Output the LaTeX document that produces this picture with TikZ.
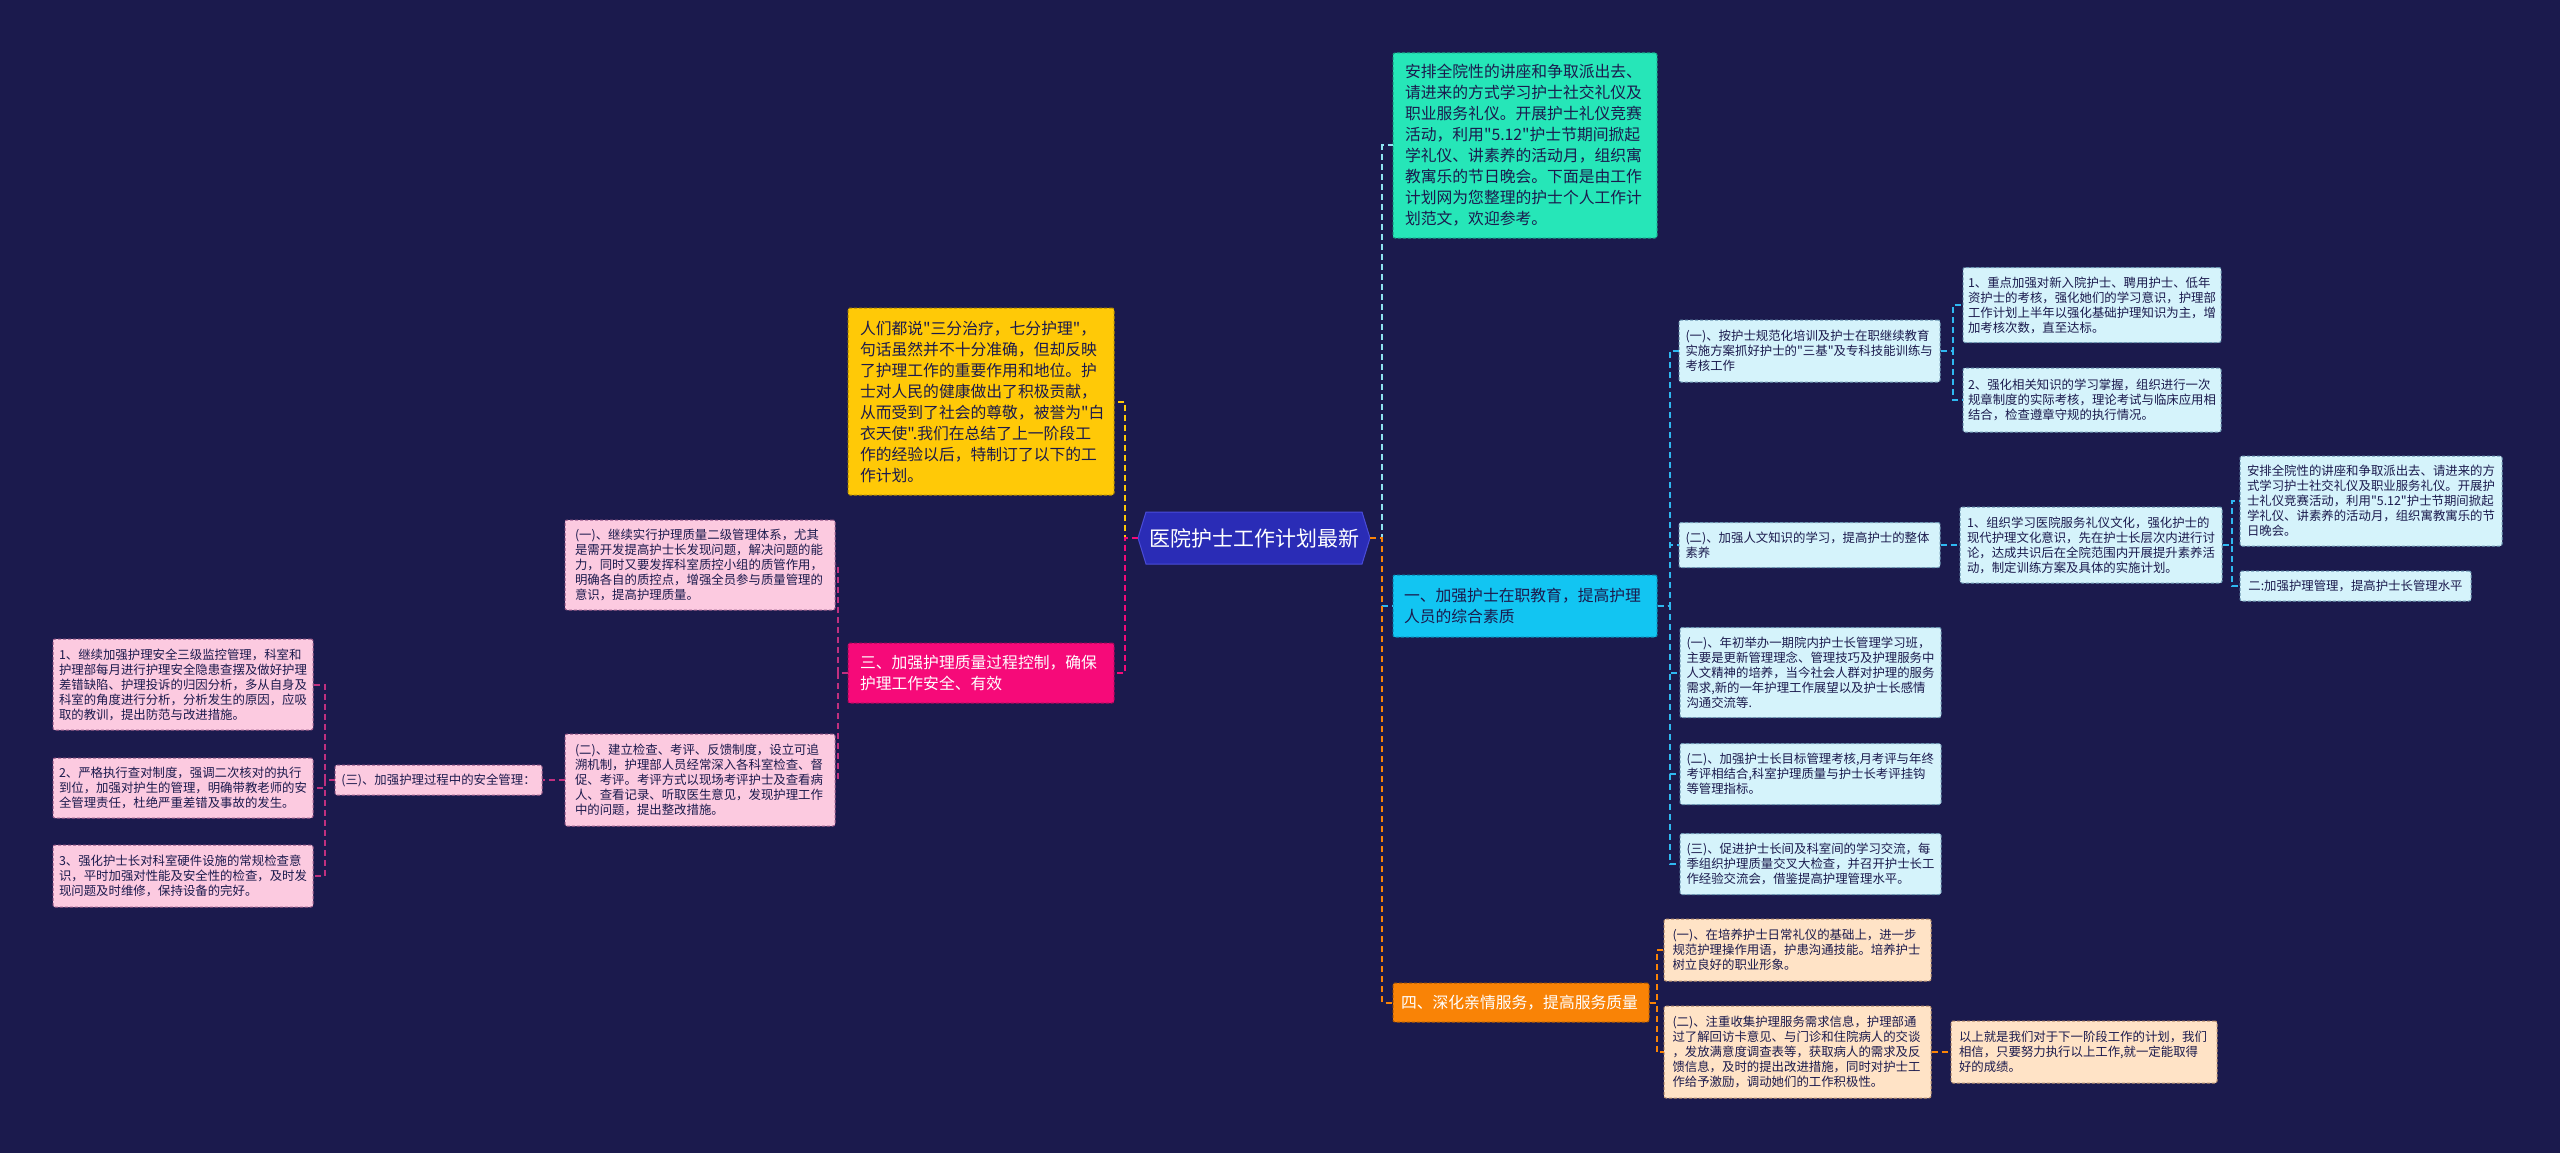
\documentclass[tikz,border=0pt]{standalone}
\usepackage{fontspec}
\setmainfont{Noto Sans CJK SC}[Ligatures=TeXOff]
\definecolor{bg}{HTML}{1B1A4D}
\definecolor{navy}{HTML}{1B1A4D}
\definecolor{tealc}{HTML}{26E6B8}
\definecolor{tealb}{HTML}{169E82}
\definecolor{tealline}{HTML}{8FE3F0}
\definecolor{cyanc}{HTML}{12C5F2}
\definecolor{cyanb}{HTML}{0A86B0}
\definecolor{cyanline}{HTML}{2FB8F0}
\definecolor{lcyan}{HTML}{D5F3FB}
\definecolor{lcyanb}{HTML}{6C98B4}
\definecolor{orangec}{HTML}{F98306}
\definecolor{orangeb}{HTML}{B05A00}
\definecolor{peach}{HTML}{FFE3C6}
\definecolor{peachb}{HTML}{B88E6C}
\definecolor{yellowc}{HTML}{FFC907}
\definecolor{yellowb}{HTML}{B08A00}
\definecolor{magc}{HTML}{F60A79}
\definecolor{magb}{HTML}{A8085A}
\definecolor{pinkc}{HTML}{FCCAE0}
\definecolor{pinkb}{HTML}{9A5A8A}
\definecolor{pinkline}{HTML}{C0307F}
\definecolor{centerc}{HTML}{2A2CB6}
\definecolor{centerb}{HTML}{4A4CD8}
\tikzset{
  base/.style={rectangle, rounded corners=2pt, line width=1pt, dash pattern=on 3pt off 2pt, align=left, inner xsep=0pt, inner ysep=0pt, anchor=center},
  smallbox/.style={base, font=\fontsize{12.4pt}{15pt}\selectfont, text=navy},
  bigbox/.style={base, font=\fontsize{15.8pt}{21pt}\selectfont},
  pinkbox/.style={smallbox, fill=pinkc, draw=pinkb},
  cyanbox/.style={smallbox, fill=lcyan, draw=lcyanb},
  peachbox/.style={smallbox, fill=peach, draw=peachb},
  sz/.style 2 args={minimum width=#1, minimum height=#2},
  conn/.style={line width=2pt, dash pattern=on 6pt off 4pt},
}
\begin{document}
\begin{tikzpicture}[x=1pt, y=-1pt]
\fill[bg] (0,0) rectangle (2560,1153);

% center
\fill[centerc, draw=centerb, line width=1pt] (1138,538) -- (1146,512) -- (1362,512) -- (1370,538) -- (1362,564) -- (1146,564) -- cycle;
\node[rectangle, inner sep=0pt, sz={232pt}{51pt}, text=white, font=\fontsize{21pt}{25pt}\selectfont] (c) at (1254,538) {医院护士工作计划最新};

% right main
\node[bigbox, fill=tealc, draw=tealb, text=navy, sz={264pt}{185pt}, text width=240pt] (t0) at (1525,145.5) {安排全院性的讲座和争取派出去、\\请进来的方式学习护士社交礼仪及\\职业服务礼仪。开展护士礼仪竞赛\\活动，利用"5.12"护士节期间掀起\\学礼仪、讲素养的活动月，组织寓\\教寓乐的节日晚会。下面是由工作\\计划网为您整理的护士个人工作计\\划范文，欢迎参考。};
\node[bigbox, fill=cyanc, draw=cyanb, text=navy, sz={264pt}{62pt}, text width=242pt] (b1) at (1525,606) {一、加强护士在职教育，提高护理\\人员的综合素质};
\node[bigbox, fill=orangec, draw=orangeb, text=white, sz={256pt}{39pt}, text width=240pt] (b4) at (1521,1002.5) {四、深化亲情服务，提高服务质量};

% left main
\node[bigbox, fill=yellowc, draw=yellowb, text=navy, sz={266pt}{187pt}, text width=242pt] (y0) at (981,401.5) {人们都说"三分治疗，七分护理"，\\句话虽然并不十分准确，但却反映\\了护理工作的重要作用和地位。护\\士对人民的健康做出了积极贡献，\\从而受到了社会的尊敬，被誉为"白\\衣天使".我们在总结了上一阶段工\\作的经验以后，特制订了以下的工\\作计划。};
\node[bigbox, fill=magc, draw=magb, text=white, sz={266pt}{60pt}, text width=242pt] (m0) at (981,673) {三、加强护理质量过程控制，确保\\护理工作安全、有效};

% left children
\node[pinkbox, sz={270pt}{90pt}, text width=250pt] (p1) at (700,565) {(一)、继续实行护理质量二级管理体系，尤其\\是需开发提高护士长发现问题，解决问题的能\\力，同时又要发挥科室质控小组的质管作用，\\明确各自的质控点，增强全员参与质量管理的\\意识，提高护理质量。};
\node[pinkbox, sz={270pt}{92pt}, text width=250pt] (p2) at (700,780) {(二)、建立检查、考评、反馈制度，设立可追\\溯机制，护理部人员经常深入各科室检查、督\\促、考评。考评方式以现场考评护士及查看病\\人、查看记录、听取医生意见，发现护理工作\\中的问题，提出整改措施。};
\node[pinkbox, sz={207pt}{30pt}] (p3) at (438.5,780) {(三)、加强护理过程中的安全管理：};
\node[pinkbox, sz={260pt}{91pt}, text width=248pt] (q1) at (183,684.5) {1、继续加强护理安全三级监控管理，科室和\\护理部每月进行护理安全隐患查摆及做好护理\\差错缺陷、护理投诉的归因分析，多从自身及\\科室的角度进行分析，分析发生的原因，应吸\\取的教训，提出防范与改进措施。};
\node[pinkbox, sz={260pt}{60pt}, text width=248pt] (q2) at (183,788) {2、严格执行查对制度，强调二次核对的执行\\到位，加强对护生的管理，明确带教老师的安\\全管理责任，杜绝严重差错及事故的发生。};
\node[pinkbox, sz={260pt}{62pt}, text width=248pt] (q3) at (183,876) {3、强化护士长对科室硬件设施的常规检查意\\识，平时加强对性能及安全性的检查，及时发\\现问题及时维修，保持设备的完好。};

% right children
\node[cyanbox, sz={261pt}{62pt}, text width=248pt] (r1) at (1809.5,351) {(一)、按护士规范化培训及护士在职继续教育\\实施方案抓好护士的"三基"及专科技能训练与\\考核工作};
\node[cyanbox, sz={258pt}{75pt}, text width=248pt] (r1a) at (2092,305) {1、重点加强对新入院护士、聘用护士、低年\\资护士的考核，强化她们的学习意识，护理部\\工作计划上半年以强化基础护理知识为主，增\\加考核次数，直至达标。};
\node[cyanbox, sz={258pt}{64pt}, text width=248pt] (r1b) at (2092,400) {2、强化相关知识的学习掌握，组织进行一次\\规章制度的实际考核，理论考试与临床应用相\\结合，检查遵章守规的执行情况。};
\node[cyanbox, sz={261pt}{45pt}, text width=248pt] (r2) at (1809.5,545) {(二)、加强人文知识的学习，提高护士的整体\\素养};
\node[cyanbox, sz={262pt}{76pt}, text width=248pt] (r2a) at (2091,545) {1、组织学习医院服务礼仪文化，强化护士的\\现代护理文化意识，先在护士长层次内进行讨\\论，达成共识后在全院范围内开展提升素养活\\动，制定训练方案及具体的实施计划。};
\node[cyanbox, sz={262pt}{90pt}, text width=248pt] (r2a1) at (2371,501) {安排全院性的讲座和争取派出去、请进来的方\\式学习护士社交礼仪及职业服务礼仪。开展护\\士礼仪竞赛活动，利用"5.12"护士节期间掀起\\学礼仪、讲素养的活动月，组织寓教寓乐的节\\日晚会。};
\node[cyanbox, sz={231pt}{30pt}] (r2a2) at (2355.5,586) {二:加强护理管理，提高护士长管理水平};
\node[cyanbox, sz={261pt}{90pt}, text width=248pt] (r3) at (1810.5,672.5) {(一)、年初举办一期院内护士长管理学习班，\\主要是更新管理理念、管理技巧及护理服务中\\人文精神的培养，当今社会人群对护理的服务\\需求,新的一年护理工作展望以及护士长感情\\沟通交流等.};
\node[cyanbox, sz={261pt}{61pt}, text width=248pt] (r4) at (1810.5,774) {(二)、加强护士长目标管理考核,月考评与年终\\考评相结合,科室护理质量与护士长考评挂钩\\等管理指标。};
\node[cyanbox, sz={261pt}{61pt}, text width=248pt] (r5) at (1810.5,864) {(三)、促进护士长间及科室间的学习交流，每\\季组织护理质量交叉大检查，并召开护士长工\\作经验交流会，借鉴提高护理管理水平。};

% orange children
\node[peachbox, sz={267pt}{62pt}, text width=250pt] (o1) at (1797.5,950) {(一)、在培养护士日常礼仪的基础上，进一步\\规范护理操作用语，护患沟通技能。培养护士\\树立良好的职业形象。};
\node[peachbox, sz={267pt}{92pt}, text width=250pt] (o2) at (1797.5,1052) {(二)、注重收集护理服务需求信息，护理部通\\过了解回访卡意见、与门诊和住院病人的交谈\\，发放满意度调查表等，获取病人的需求及反\\馈信息，及时的提出改进措施，同时对护士工\\作给予激励，调动她们的工作积极性。};
\node[peachbox, sz={266pt}{62pt}, text width=250pt] (o2a) at (2084,1052) {以上就是我们对于下一阶段工作的计划，我们\\相信，只要努力执行以上工作,就一定能取得\\好的成绩。};

% connectors
\draw[conn, tealline] (c.east) -- ++(12,0) |- (t0.west);
\draw[conn, cyanline] (c.east) -- ++(12,0) |- (b1.west);
\draw[conn, orangec] (c.east) -- ++(12,0) |- (b4.west);
\draw[conn, yellowc] (c.west) -- ++(-13,0) |- (y0.east);
\draw[conn, magc] (c.west) -- ++(-13,0) |- (m0.east);

\draw[conn, pinkline] (m0.west) -- ++(-10,0) |- (p1.east);
\draw[conn, pinkline] (m0.west) -- ++(-10,0) |- (p2.east);
\draw[conn, pinkline] (p2.west) -- (p3.east);
\draw[conn, pinkline] (p3.west) -- ++(-10,0) |- (q1.east);
\draw[conn, pinkline] (p3.west) -- ++(-10,0) |- (q2.east);
\draw[conn, pinkline] (p3.west) -- ++(-10,0) |- (q3.east);

\draw[conn, cyanline] (b1.east) -- ++(12,0) |- (r1.west);
\draw[conn, cyanline] (b1.east) -- ++(12,0) |- (r2.west);
\draw[conn, cyanline] (b1.east) -- ++(12,0) |- (r3.west);
\draw[conn, cyanline] (b1.east) -- ++(12,0) |- (r4.west);
\draw[conn, cyanline] (b1.east) -- ++(12,0) |- (r5.west);
\draw[conn, cyanline] (r1.east) -- ++(12,0) |- (r1a.west);
\draw[conn, cyanline] (r1.east) -- ++(12,0) |- (r1b.west);
\draw[conn, cyanline] (r2.east) -- (r2a.west);
\draw[conn, cyanline] (r2a.east) -- ++(9,0) |- (r2a1.west);
\draw[conn, cyanline] (r2a.east) -- ++(9,0) |- (r2a2.west);

\draw[conn, orangec] (b4.east) -- ++(7,0) |- (o1.west);
\draw[conn, orangec] (b4.east) -- ++(7,0) |- (o2.west);
\draw[conn, orangec] (o2.east) -- (o2a.west);
\end{tikzpicture}
\end{document}
